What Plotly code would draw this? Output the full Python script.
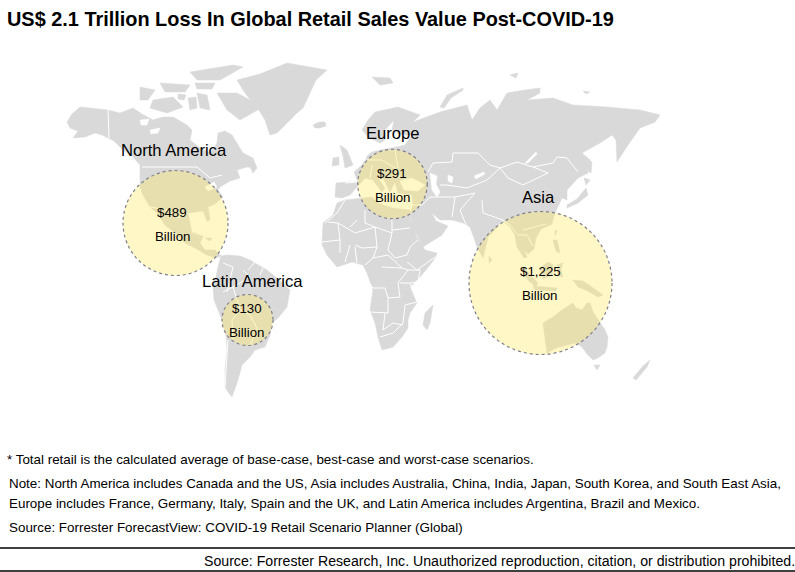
import plotly.graph_objects as go

TITLE = "US$ 2.1 Trillion Loss In Global Retail Sales Value Post-COVID-19"
regions = ["North America", "Europe", "Asia", "Latin America"]
loss_labels = ["$489", "$291", "$1,225", "$130"]
centre_x = [175.5, 392.5, 540.5, 247.5]
centre_y = [223, 184, 283, 320]
diameters = [105, 69.5, 143, 51]
region_label_xy = [(174, 150), (393, 133), (538, 197), (252, 281)]
value_label_xy = [(172, 212), (392, 173), (540, 271), (247, 308)]
unit_label_xy = [(172, 236), (392, 197), (539, 295), (246, 332)]

footnotes = [
    (7, 459, "* Total retail is the calculated average of base-case, best-case and worst-case scenarios."),
    (9, 483, "Note: North America includes Canada and the US, Asia includes Australia, China, India, Japan, South Korea, and South East Asia,"),
    (9, 503, "Europe includes France, Germany, Italy, Spain and the UK, and Latin America includes Argentina, Brazil and Mexico."),
    (9, 527, "Source: Forrester ForecastView: COVID-19 Retail Scenario Planner (Global)"),
]
credit = "Source: Forrester Research, Inc. Unauthorized reproduction, citation, or distribution prohibited."

# Map outlines (page pixels of the 795x572 map frame)
north_america = [(67,122),(72,114),(80,107),(108,110),(120,113),(133,108),(142,114),(153,120),(163,117),(173,117),(187,125),(192,130),(190,140),(200,148),(210,153),(214,148),(217,143),(218,133),(225,131),(232,135),(238,145),(243,153),(253,158),(257,168),(247,167),(237,170),(240,178),(230,181),(220,187),(218,190),(223,197),(215,204),(208,207),(210,220),(207,221),(203,211),(188,213),(190,225),(192,233),(196,235),(203,236),(200,243),(205,250),(215,250),(221,256),(216,258),(207,255),(195,248),(185,243),(175,233),(165,225),(158,214),(150,207),(143,195),(140,187),(140,173),(140,165),(131,155),(123,150),(114,141),(108,138),(102,135),(95,133),(85,137),(73,138),(78,131),(70,128)]
greenland = [(237,80),(260,74),(287,63),(327,70),(316,80),(307,100),(303,108),(297,113),(285,125),(277,133),(270,135),(265,120),(257,107),(248,97),(243,90)]
iceland = [(313,125),(319,122),(325,122),(326,126),(320,128),(315,128)]
baffin = [(217,93),(237,93),(263,107),(253,113),(240,120),(227,110)]
victoria = [(153,100),(173,97),(183,107),(167,113),(150,108)]
banks = [(140,87),(155,90),(148,100),(140,100)]
ellesmere = [(190,72),(233,65),(243,67),(220,80),(197,80)]
parry = [(160,83),(190,85),(185,92),(165,92)]
devon = [(195,83),(215,83),(212,89),(197,89)]
boothia = [(188,98),(196,97),(197,108),(190,110)]
southampton = [(197,93),(207,95),(210,110),(200,108)]
king_william = [(178,94),(186,95),(184,100),(178,99)]
newfoundland = [(250,167),(257,168),(253,173)]
cuba = [(193,232),(203,237),(198,236)]
hispaniola = [(205,238),(212,238),(210,241)]
south_america = [(221,256),(227,255),(240,256),(250,260),(260,266),(267,270),(278,279),(290,290),(288,301),(287,307),(278,318),(272,323),(270,335),(265,347),(255,350),(250,357),(242,365),(238,380),(232,397),(228,392),(225,387),(225,370),(227,350),(226,335),(222,320),(214,300),(213,287),(216,277),(218,267)]
africa = [(345,200),(360,198),(372,197),(378,203),(392,208),(410,210),(410,218),(417,237),(425,250),(437,253),(435,258),(430,265),(420,277),(410,287),(414,296),(417,303),(410,313),(408,320),(408,328),(402,337),(393,347),(382,350),(378,337),(375,323),(370,310),(373,290),(367,273),(363,265),(352,262),(337,267),(327,255),(322,245),(323,223),(333,215),(337,203)]
madagascar = [(433,305),(430,323),(427,330),(423,325),(425,313)]
eurasia = [(335,197),(336,183),(348,182),(358,182),(354,172),(362,165),(368,155),(372,152),(380,150),(392,148),(405,145),(412,135),(402,135),(392,130),(394,120),(385,130),(385,140),(380,143),(368,137),(362,130),(368,120),(375,112),(398,107),(420,115),(413,122),(427,117),(440,112),(467,105),(472,120),(480,108),(490,100),(497,110),(507,93),(525,90),(540,88),(540,93),(527,100),(553,98),(573,105),(607,107),(640,110),(660,115),(655,122),(640,128),(628,145),(617,162),(616,140),(612,135),(600,143),(582,153),(590,160),(588,173),(578,178),(567,190),(567,200),(562,198),(557,210),(555,213),(552,224),(541,229),(536,238),(534,249),(528,254),(524,250),(527,257),(524,258),(517,247),(515,235),(510,227),(502,220),(495,230),(488,237),(485,250),(483,258),(477,247),(470,227),(463,223),(452,220),(440,220),(432,213),(436,221),(448,226),(442,235),(423,247),(413,227),(410,215),(413,205),(412,195),(398,193),(395,182),(390,192),(383,178),(378,178),(385,188),(382,192),(373,180),(365,178),(358,186),(350,195),(342,198)]
uk = [(340,145),(347,150),(353,165),(345,168),(343,156)]
ireland = [(333,158),(339,157),(339,165),(332,166)]
svalbard = [(372,77),(390,78),(393,83),(380,85)]
novaya = [(440,107),(447,95),(463,88),(463,90),(451,98),(444,108)]
severnaya = [(510,75),(518,73),(516,78)]
siberian = [(583,91),(590,92),(586,94)]
sumatra = [(520,268),(526,270),(538,283),(536,287),(528,280)]
borneo = [(540,268),(548,262),(553,265),(552,275),(543,279)]
sulawesi = [(557,265),(563,263),(561,270),(563,277),(558,276)]
java = [(533,286),(557,288),(556,291),(535,290)]
new_guinea = [(573,280),(583,281),(603,295),(598,297),(588,291),(578,287)]
philippines = [(553,240),(557,240),(560,253),(556,251)]
sakhalin = [(589,160),(592,162),(591,173),(589,172)]
hokkaido = [(584,178),(590,180),(586,185)]
japan = [(586,188),(588,195),(578,203),(567,208),(567,205),(577,199)]
taiwan = [(555,230),(557,231),(555,236)]
sri_lanka = [(489,256),(492,260),(489,263)]
australia = [(543,323),(553,317),(562,310),(573,303),(576,308),(582,310),(587,303),(590,303),(593,312),(598,320),(605,330),(608,337),(607,347),(605,353),(598,358),(593,360),(587,354),(582,347),(576,343),(567,345),(556,348),(547,353),(545,340)]
tasmania = [(594,365),(600,365),(597,370)]
nz_south = [(650,360),(647,367),(636,380),(633,378),(643,366)]

land = [north_america, greenland, iceland, baffin, victoria, banks, ellesmere, parry, devon, boothia,
        southampton, king_william, newfoundland, cuba, hispaniola, south_america, africa, madagascar,
        eurasia, uk, ireland, svalbard, novaya, severnaya, siberian, sumatra, borneo, sulawesi, java,
        new_guinea, philippines, sakhalin, hokkaido, japan, taiwan, sri_lanka, australia, tasmania, nz_south]

# Inland water
black_sea = [(400,181),(412,178),(425,185),(418,191),(404,190)]
caspian = [(430,173),(437,176),(436,184),(440,192),(437,197),(432,190)]
aral = [(448,175),(453,177),(452,183),(448,181)]
balkhash = [(474,176),(484,172),(485,174),(476,179)]
baikal = [(536,152),(537,154),(528,163),(525,163)]
lakes = [(205,187),(214,182),(217,187),(208,191)]
hudson_james = [(195,116),(202,118),(198,123)]
great_bear = [(140,120),(149,119),(147,125),(141,125)]
great_slave = [(150,130),(160,128),(158,133),(151,134)]
water = [black_sea, caspian, aral, balkhash, baikal, lakes, hudson_james, great_bear, great_slave]

# Country borders
borders = [
    [(108,110),(109,138)], [(142,167),(197,167),(210,178),(222,175)],
    [(150,207),(167,210),(178,218),(188,213)],
    [(345,200),(337,213),(325,223)], [(328,222),(338,223),(340,240),(322,242)],
    [(338,223),(355,233),(375,227),(365,223),(365,210)], [(375,227),(392,233),(392,218)], [(392,230),(410,228)],
    [(392,233),(388,250),(395,258),(407,255),(410,247),(418,240)], [(375,227),(377,247),(362,248),(355,245)],
    [(355,247),(357,263)], [(377,247),(373,258),(365,265)], [(373,258),(388,255),(402,268)],
    [(382,267),(402,268),(408,270),(398,283),(400,297),(388,298),(385,288),(373,288),(367,280)],
    [(407,262),(417,270),(435,257)], [(408,270),(420,270),(418,282),(410,283)], [(400,283),(410,283),(417,302)],
    [(370,312),(388,313),(388,298)], [(385,313),(383,330)], [(383,330),(393,323),(403,325)], [(380,337),(393,333),(403,323)],
    [(417,302),(405,305),(403,323)], [(357,220),(350,227)], [(340,240),(340,253)], [(350,245),(345,262)],
    [(428,172),(433,163),(452,162),(453,153),(478,153),(490,165),(500,168),(517,162),(533,167),(553,163),(557,157),(567,158),(578,172)],
    [(500,168),(508,178),(523,185),(548,173),(533,167)], [(500,168),(487,180),(467,188),(447,185),(440,185)],
    [(430,197),(455,197),(452,217)], [(475,193),(460,210),(467,227)], [(482,200),(483,213),(503,220),(510,225)],
    [(455,197),(475,193)], [(430,197),(422,205),(413,205)], [(510,225),(518,235),(527,235),(533,246)], [(523,230),(546,224)],
    [(223,263),(233,267),(227,292)], [(243,270),(250,277),(233,287),(223,292)], [(248,270),(255,262)], [(263,268),(260,275)],
    [(233,287),(240,310),(250,315),(258,330),(250,345)], [(228,340),(225,387)], [(240,310),(232,320),(233,340)],
    [(362,160),(382,160),(395,168),(400,178)], [(372,165),(370,178)], [(345,183),(358,182)], [(395,150),(398,168)],
]

def flat(polys):
    xs, ys = [], []
    for p in polys:
        for x, y in p:
            xs.append(x); ys.append(y)
        xs.append(None); ys.append(None)
    return xs, ys

fig = go.Figure()
lx, ly = flat([p + p[:1] for p in land])
fig.add_trace(go.Scatter(x=lx, y=ly, mode="lines", fill="toself", fillcolor="#D9D9D9",
                         line=dict(color="#D9D9D9", width=0.5), hoverinfo="skip", showlegend=False))
wx, wy = flat([p + p[:1] for p in water])
fig.add_trace(go.Scatter(x=wx, y=wy, mode="lines", fill="toself", fillcolor="#FFFFFF",
                         line=dict(color="#FFFFFF", width=0.5), hoverinfo="skip", showlegend=False))
bx, by = flat(borders)
fig.add_trace(go.Scatter(x=bx, y=by, mode="lines", line=dict(color="#FFFFFF", width=1),
                         hoverinfo="skip", showlegend=False))
fig.add_trace(go.Scatter(x=centre_x, y=centre_y, mode="markers", text=regions, hoverinfo="text",
                         marker=dict(size=diameters, sizemode="diameter", color="rgba(255,232,100,0.52)",
                                     line=dict(width=0)), showlegend=False))

shapes = []
for cx, cy, d in zip(centre_x, centre_y, diameters):
    shapes.append(dict(type="circle", xref="x", yref="y", x0=cx-d/2, x1=cx+d/2, y0=cy-d/2, y1=cy+d/2,
                       line=dict(color="#7F7F8C", width=1.2, dash="dot")))
for y in (548, 571):
    shapes.append(dict(type="line", xref="x", yref="y", x0=0, x1=795, y0=y, y1=y,
                       line=dict(color="#404040", width=2)))

FONT = "Liberation Sans"
ann = []
def label(x, y, s, size, anchor="center", color="#000000"):
    ann.append(dict(x=x, y=y, xref="x", yref="y", text=s, showarrow=False, xanchor=anchor, yanchor="middle",
                    font=dict(family=FONT, size=size, color=color), borderpad=0, borderwidth=0))
for name, (x, y) in zip(regions, region_label_xy):
    label(x, y, name, 16.6)
for v, (x, y), (ux, uy) in zip(loss_labels, value_label_xy, unit_label_xy):
    label(x, y, v, 13.3)
    label(ux, uy, "Billion", 13.3)
label(7, 19, "<b>" + TITLE + "</b>", 19.9, "left")
for x, y, s in footnotes:
    label(x, y, s, 13.4, "left")
label(795, 561, credit, 14.15, "right")

fig.update_layout(width=795, height=572, margin=dict(l=0, r=0, t=0, b=0), paper_bgcolor="white",
                  plot_bgcolor="white", shapes=shapes, annotations=ann, showlegend=False,
                  xaxis=dict(range=[0, 795], visible=False, fixedrange=True),
                  yaxis=dict(range=[572, 0], visible=False, fixedrange=True))
fig.write_html("out.html", config={"displayModeBar": False},
               post_script="document.body.style.margin='0';document.body.style.overflow='hidden';")
